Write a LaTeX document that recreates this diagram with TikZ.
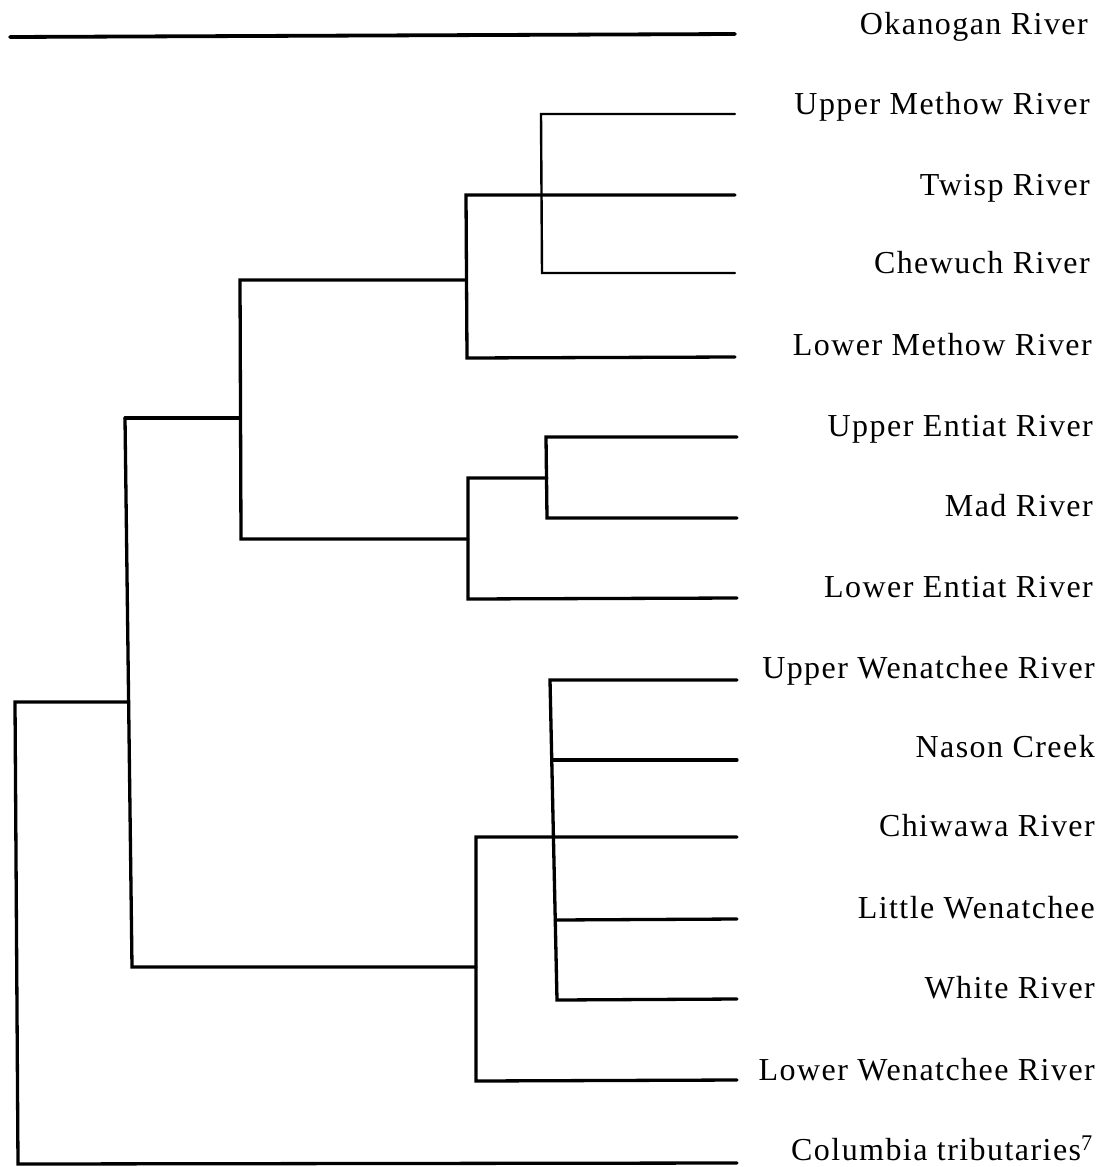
\documentclass[tikz,border=0pt]{standalone}
\usepackage{fontspec}
\setmainfont{Liberation Serif}[LetterSpace=4.5]
\usetikzlibrary{calc}
\begin{document}
\begin{tikzpicture}[x=1pt,y=-1pt,
  branch/.style={line width=3.3pt,line cap=round,line join=miter},
  thinbranch/.style={line width=2.4pt,line cap=round,line join=miter},
  leaflabel/.style={anchor=base east,inner sep=0pt,font=\fontsize{32}{38}\selectfont}]
\useasboundingbox (0,0) rectangle (1113,1167);
% leaf line ends
\coordinate (ok0) at (10,37);
\coordinate (ok) at (735,34);
\coordinate (um) at (735,114);
\coordinate (tw) at (735,195);
\coordinate (ch) at (735,273);
\coordinate (lm) at (735,357);
\coordinate (ue) at (737,437);
\coordinate (md) at (737,518);
\coordinate (le) at (737,598);
\coordinate (uw) at (737,680);
\coordinate (na) at (737,760);
\coordinate (cw) at (737,837);
\coordinate (lw) at (737,919);
\coordinate (wh) at (737,999);
\coordinate (lwen) at (737,1080);
\coordinate (col) at (737,1163);
% internal nodes
\coordinate (nUC) at (541,114);
\coordinate (nUCb) at (542,273);
\coordinate (nMet) at (466,195);
\coordinate (nMetb) at (467,358);
\coordinate (nMetm) at (466,280);
\coordinate (nEnt) at (546,437);
\coordinate (nEntb) at (547,518);
\coordinate (nEntm) at (547,478);
\coordinate (nEnt2) at (468,478);
\coordinate (nEnt2b) at (468,599);
\coordinate (nME) at (240,280);
\coordinate (nMEb) at (241,539);
\coordinate (nMEm) at (240,418);
\coordinate (nUp) at (125,418);
\coordinate (nUpb) at (132,967);
\coordinate (nUpm) at (128,702);
\coordinate (nW) at (550,680);
\coordinate (nWb) at (557,1000);
\coordinate (nWm) at (553,837);
\coordinate (nW2) at (476,837);
\coordinate (nW2b) at (476,1081);
\coordinate (nW2m) at (476,967);
\coordinate (root) at (15,702);
\coordinate (rootb) at (18,1164);
% labels
\node[leaflabel] (tok) at (1088,34) {Okanogan River};
\node[leaflabel] (tum) at (1090,114) {Upper Methow River};
\node[leaflabel] (ttw) at (1090,195) {Twisp River};
\node[leaflabel] (tch) at (1090,273) {Chewuch River};
\node[leaflabel] (tlm) at (1092,355) {Lower Methow River};
\node[leaflabel] (tue) at (1093,436) {Upper Entiat River};
\node[leaflabel] (tmd) at (1093,516) {Mad River};
\node[leaflabel] (tle) at (1093,597) {Lower Entiat River};
\node[leaflabel] (tuw) at (1095,678) {Upper Wenatchee River};
\node[leaflabel] (tna) at (1095,757) {Nason Creek};
\node[leaflabel] (tcw) at (1095,836) {Chiwawa River};
\node[leaflabel] (tlw) at (1095,918) {Little Wenatchee};
\node[leaflabel] (twh) at (1095,998) {White River};
\node[leaflabel] (tlwen) at (1095,1080) {Lower Wenatchee River};
\node[leaflabel] (tcol) at (1093,1160) {Columbia tributaries\textsuperscript{7}};
% Okanogan
\draw[line width=3.8pt,line cap=round] (ok0) -- (ok);
% Methow clade
\draw[thinbranch] (um) -- (nUC) -- (nUCb) -- (ch);
\draw[branch] (tw) -- (nMet) -- (nMetb) -- (lm);
% Entiat clade
\draw[branch] (ue) -- (nEnt) -- (nEntb) -- (md);
\draw[branch] (nEntm) -- (nEnt2) -- (nEnt2b) -- (le);
% Methow + Entiat
\draw[branch] (nMetm) -- (nME) -- (nMEb) -- (nEnt2 |- nMEb);
\draw[branch] (nME |- nMEm) -- (nUp);
% Wenatchee clade
\draw[branch] (uw) -- (nW) -- (nWb) -- (wh);
\draw[branch] (na) -- ($(nW)!0.25!(nWb)$);
\draw[branch] (cw) -- (nWm) -- (nW2) -- (nW2b) -- (lwen);
\draw[branch] (lw) -- ($(nW)!0.75!(nWb)$);
% upper group
\draw[branch] (nUp) -- (nUpb) -- (nW2m);
% root
\draw[branch] (nUpm) -- (root) -- (rootb) -- (col);
\end{tikzpicture}
\end{document}
